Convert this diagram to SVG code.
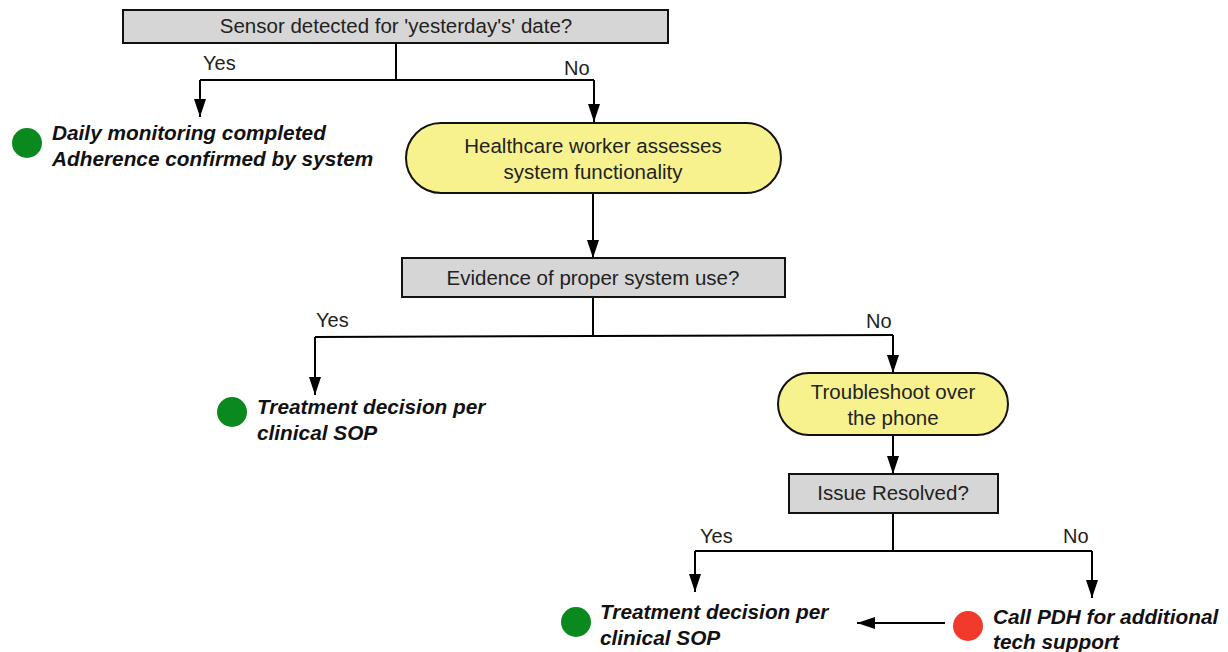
<svg xmlns="http://www.w3.org/2000/svg" width="1228" height="652" viewBox="0 0 1228 652">
<defs>
<marker id="ah" viewBox="0 0 18 12" refX="18" refY="6" markerWidth="18" markerHeight="12" markerUnits="userSpaceOnUse" orient="auto">
<path d="M0,0 L18,6 L0,12 z" fill="#000"/>
</marker>
<style>
.box{fill:#d6d6d6;stroke:#111;stroke-width:2}
.pill{fill:#f8f28e;stroke:#111;stroke-width:2}
.t{font-family:"Liberation Sans",Arial,sans-serif;font-size:20.5px;fill:#222;text-anchor:middle}
.lbl{font-family:"Liberation Sans",Arial,sans-serif;font-size:20px;fill:#222}
.out{font-family:"Liberation Sans",Arial,sans-serif;font-size:20.8px;font-weight:bold;font-style:italic;fill:#111}
.c{fill:none;stroke:#000;stroke-width:2}
.g{fill:#0a8a1e}
.r{fill:#f23a2c}
</style>
</defs>
<g id="connectors">
<path class="c" d="M396,43 V80"/>
<path class="c" d="M200,80 H594"/>
<path class="c" d="M200,80 V117" marker-end="url(#ah)"/>
<path class="c" d="M594,80 V122" marker-end="url(#ah)"/>
<path class="c" d="M593,193 V258" marker-end="url(#ah)"/>
<path class="c" d="M593,297 V336"/>
<path class="c" d="M315,337 L893,335"/>
<path class="c" d="M315,337 V395" marker-end="url(#ah)"/>
<path class="c" d="M893,335 V373" marker-end="url(#ah)"/>
<path class="c" d="M893,435 V474" marker-end="url(#ah)"/>
<path class="c" d="M893,513 V551"/>
<path class="c" d="M695,551 H1092"/>
<path class="c" d="M695,551 V592" marker-end="url(#ah)"/>
<path class="c" d="M1092,551 V598" marker-end="url(#ah)"/>
<path class="c" d="M945,623 H857" marker-end="url(#ah)"/>
<text class="lbl" x="203" y="70">Yes</text>
<text class="lbl" x="564" y="75">No</text>
<text class="lbl" x="316" y="327">Yes</text>
<text class="lbl" x="866" y="328">No</text>
<text class="lbl" x="700" y="543">Yes</text>
<text class="lbl" x="1063" y="543">No</text>
</g>
<g id="n1">
<rect class="box" x="123" y="10" width="545" height="33"/>
<text class="t" x="396" y="33">Sensor detected for 'yesterday's' date?</text>
</g>
<g id="n2">
<circle class="g" cx="27" cy="143" r="15"/>
<text class="out" x="52" y="140">Daily monitoring completed</text>
<text class="out" x="52" y="166">Adherence confirmed by system</text>
</g>
<g id="n3">
<rect class="pill" x="406" y="123" width="375" height="70" rx="35" ry="35"/>
<text class="t" x="593" y="153">Healthcare worker assesses</text>
<text class="t" x="593" y="179">system functionality</text>
</g>
<g id="n4">
<rect class="box" x="402" y="258" width="383" height="39"/>
<text class="t" x="593" y="285">Evidence of proper system use?</text>
</g>
<g id="n5">
<circle class="g" cx="232" cy="412" r="15"/>
<text class="out" x="257" y="414">Treatment decision per</text>
<text class="out" x="257" y="440">clinical SOP</text>
</g>
<g id="n6">
<rect class="pill" x="778" y="373" width="230" height="62" rx="31" ry="31"/>
<text class="t" x="893" y="399">Troubleshoot over</text>
<text class="t" x="893" y="425">the phone</text>
</g>
<g id="n7">
<rect class="box" x="789" y="474" width="209" height="39"/>
<text class="t" x="893" y="500">Issue Resolved?</text>
</g>
<g id="n8">
<circle class="g" cx="576" cy="622" r="15"/>
<text class="out" x="600" y="619">Treatment decision per</text>
<text class="out" x="600" y="645">clinical SOP</text>
</g>
<g id="n9">
<circle class="r" cx="968" cy="626" r="15"/>
<text class="out" x="993" y="624">Call PDH for additional</text>
<text class="out" x="993" y="649">tech support</text>
</g>
</svg>
